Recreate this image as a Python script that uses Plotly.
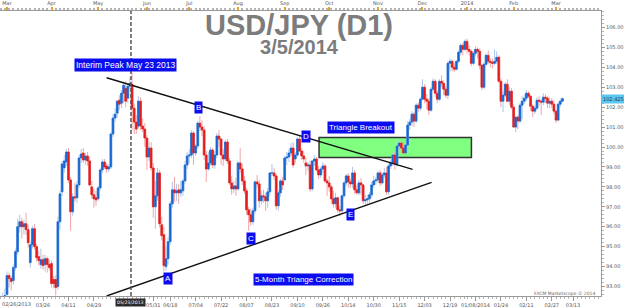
import pandas as pd
import plotly.graph_objects as go

# ---------------- data ----------------
HOLIDAYS = ["2013-12-25", "2014-01-01"]
DATES = [d for d in pd.bdate_range("2013-02-26", "2014-03-06") if d.strftime("%Y-%m-%d") not in HOLIDAYS]

OPEN = [
    91.90, 92.15, 92.45, 92.60, 93.55, 93.40, 93.30, 93.95, 94.75, 96.00,
    96.25, 96.00, 96.15, 95.85, 94.20, 95.10, 95.90, 95.00, 94.50, 94.10,
    94.35, 94.10, 94.40, 94.10, 94.15, 93.35, 93.35, 93.00, 96.25, 97.75,
    98.95, 99.25, 99.75, 98.35, 96.75, 97.50, 97.45, 98.10, 99.45, 99.70,
    99.35, 99.55, 99.30, 98.00, 97.60, 97.45, 97.40, 97.95, 98.85, 99.25,
    99.05, 98.90, 99.00, 100.65, 101.45, 101.70, 102.35, 102.20, 102.70, 102.95,
    102.45, 103.05, 103.15, 101.95, 101.25, 101.05, 102.30, 101.05, 100.90, 100.45,
    99.50, 99.95, 98.95, 97.00, 97.55, 98.70, 96.10, 95.60, 94.00, 94.40,
    95.25, 97.15, 97.85, 97.70, 97.85, 97.70, 97.80, 98.30, 99.10, 99.55,
    99.60, 100.70, 99.70, 100.05, 101.20, 101.00, 100.85, 99.60, 98.90, 99.20,
    99.85, 99.10, 99.60, 100.55, 100.40, 99.60, 99.40, 100.25, 99.30, 98.20,
    97.90, 98.05, 97.90, 99.20, 98.90, 98.30, 97.80, 96.85, 96.60, 96.25,
    96.80, 98.25, 98.15, 97.30, 97.55, 97.50, 97.30, 97.75, 98.70, 98.70,
    98.55, 97.05, 97.70, 98.30, 98.35, 99.45, 99.50, 99.70, 99.95, 99.40,
    99.60, 100.40, 99.80, 99.55, 99.20, 99.05, 99.10, 97.90, 99.30, 99.40,
    98.85, 98.60, 98.90, 99.05, 98.30, 98.20, 98.00, 97.40, 97.15, 97.45,
    96.85, 96.80, 97.55, 98.20, 98.55, 98.25, 98.15, 98.70, 97.85, 97.70,
    98.20, 98.10, 97.30, 97.35, 97.40, 97.60, 98.10, 98.30, 98.35, 98.70,
    98.20, 98.60, 98.70, 97.75, 99.05, 99.20, 99.60, 99.15, 100.05, 100.20,
    99.95, 99.70, 100.10, 101.10, 101.25, 101.65, 101.30, 102.10, 101.95, 102.40,
    103.00, 102.40, 102.30, 101.85, 102.90, 103.30, 102.70, 102.40, 103.30, 103.20,
    102.90, 102.60, 104.20, 104.30, 104.00, 103.90, 104.30, 104.75, 105.10, 104.90,
    105.30, 104.90, 104.80, 104.20, 104.70, 104.90, 104.80, 104.10, 103.00, 104.15,
    104.60, 104.30, 104.25, 104.20, 104.30, 104.50, 103.30, 102.30, 102.60, 103.15,
    102.30, 102.80, 102.00, 101.00, 101.50, 101.30, 102.10, 102.30, 102.45, 102.70,
    102.55, 102.05, 101.80, 101.95, 102.35, 102.30, 102.25, 102.50, 102.45, 102.20,
    102.30, 102.15, 101.80, 101.35, 102.15, 102.30,
]
HIGH = [
    92.55, 92.70, 92.90, 93.75, 93.70, 93.55, 94.10, 94.90, 96.40, 96.60,
    96.45, 96.35, 96.70, 96.10, 95.25, 96.05, 96.15, 95.15, 94.80, 94.90,
    94.60, 94.60, 94.50, 94.35, 94.30, 93.55, 93.55, 96.50, 97.80, 99.30,
    99.60, 99.90, 99.95, 98.50, 97.70, 98.20, 98.30, 99.60, 99.90, 99.95,
    99.70, 99.75, 99.50, 98.30, 97.90, 97.80, 98.05, 98.95, 99.40, 99.40,
    99.20, 99.15, 100.75, 101.65, 101.95, 102.35, 102.60, 102.85, 103.30, 103.30,
    103.20, 103.50, 103.75, 102.20, 101.60, 102.55, 102.50, 101.45, 101.20, 100.60,
    100.25, 100.25, 99.20, 98.30, 98.95, 98.85, 96.50, 96.00, 95.00, 95.50,
    97.30, 98.25, 98.50, 98.15, 98.15, 98.30, 98.40, 99.30, 99.75, 99.90,
    100.85, 100.80, 100.15, 101.30, 101.55, 101.35, 101.05, 99.80, 99.75, 100.00,
    99.95, 99.80, 100.70, 100.85, 100.45, 99.90, 100.35, 100.40, 99.45, 98.55,
    98.30, 98.45, 99.30, 99.95, 99.15, 98.55, 97.95, 97.00, 96.90, 96.95,
    98.35, 98.60, 98.35, 97.80, 97.85, 97.70, 97.95, 98.75, 99.15, 98.95,
    98.65, 97.85, 98.40, 98.50, 99.55, 99.75, 99.90, 100.20, 100.25, 99.75,
    100.50, 100.60, 99.95, 99.80, 99.45, 99.25, 99.30, 99.35, 99.60, 99.50,
    99.05, 99.00, 99.25, 99.15, 98.40, 98.55, 98.10, 97.80, 97.70, 97.50,
    97.05, 97.60, 98.30, 98.65, 98.70, 98.40, 99.00, 98.85, 98.10, 98.35,
    98.45, 98.15, 97.60, 97.60, 97.75, 98.25, 98.55, 98.50, 98.80, 98.85,
    98.75, 98.95, 99.00, 99.15, 99.35, 99.70, 99.75, 100.10, 100.40, 100.30,
    100.25, 100.40, 101.30, 101.40, 101.80, 101.75, 102.20, 102.25, 102.50, 103.40,
    103.15, 102.65, 102.45, 103.00, 103.45, 103.40, 102.85, 103.40, 103.60, 103.35,
    103.05, 104.30, 104.45, 104.40, 104.20, 104.35, 104.85, 105.20, 105.20, 105.40,
    105.45, 105.10, 104.90, 104.80, 105.05, 105.00, 104.95, 104.15, 104.25, 104.70,
    104.85, 104.45, 104.45, 104.90, 104.80, 104.60, 103.45, 102.80, 103.25, 103.40,
    103.00, 102.95, 102.15, 101.55, 101.60, 102.20, 102.55, 102.65, 102.85, 102.80,
    102.60, 102.15, 102.10, 102.50, 102.55, 102.40, 102.70, 102.65, 102.55, 102.50,
    102.45, 102.35, 101.85, 102.25, 102.45, 102.50,
]
LOW = [
    91.40, 91.85, 92.10, 92.55, 92.95, 92.80, 93.10, 93.80, 94.60, 95.70,
    95.40, 95.60, 95.60, 94.95, 93.95, 94.90, 94.85, 94.25, 94.05, 93.90,
    93.85, 93.75, 93.70, 93.80, 92.95, 92.90, 92.55, 92.85, 95.85, 97.55,
    98.70, 99.05, 98.20, 95.80, 96.55, 97.25, 97.20, 97.95, 99.20, 99.20,
    99.10, 99.05, 98.00, 97.40, 96.95, 97.05, 97.30, 97.80, 98.70, 98.90,
    98.70, 98.75, 98.90, 100.50, 101.25, 101.45, 101.85, 101.95, 102.20, 102.00,
    102.20, 102.90, 100.85, 100.65, 100.65, 100.95, 100.85, 100.75, 100.00, 98.85,
    99.30, 98.80, 96.45, 95.90, 97.30, 95.95, 95.30, 93.75, 93.80, 94.10,
    95.10, 96.95, 97.25, 97.30, 97.15, 97.50, 97.55, 98.15, 98.90, 99.20,
    99.45, 99.10, 99.55, 99.90, 100.80, 100.55, 99.35, 98.25, 98.80, 99.05,
    98.95, 98.90, 99.45, 100.00, 99.10, 99.05, 99.30, 99.15, 98.10, 97.60,
    97.70, 97.55, 97.80, 98.70, 98.10, 97.65, 96.60, 95.80, 96.05, 96.10,
    96.65, 97.95, 96.95, 97.10, 97.20, 96.80, 96.95, 97.55, 98.55, 98.35,
    96.85, 96.80, 97.50, 97.85, 98.30, 99.10, 99.25, 99.55, 98.95, 99.20,
    99.50, 99.75, 99.35, 99.20, 98.60, 98.80, 97.75, 97.80, 99.05, 98.75,
    98.40, 98.45, 98.70, 98.20, 97.55, 97.75, 97.15, 96.95, 96.95, 96.70,
    96.55, 96.70, 97.45, 98.05, 97.95, 97.95, 97.95, 97.65, 97.60, 97.60,
    97.60, 97.15, 97.10, 97.15, 97.20, 97.45, 97.95, 98.10, 98.20, 98.05,
    98.10, 98.45, 97.60, 97.60, 98.90, 99.05, 98.85, 99.00, 99.85, 99.70,
    99.60, 99.55, 100.00, 100.85, 101.05, 101.00, 101.20, 101.75, 101.80, 102.35,
    102.20, 101.90, 101.60, 101.75, 102.80, 102.50, 102.20, 102.30, 103.00, 102.60,
    102.45, 102.40, 103.80, 103.80, 103.75, 103.85, 104.20, 104.60, 104.60, 104.80,
    104.70, 104.60, 104.05, 104.10, 104.55, 104.45, 103.90, 102.85, 102.90, 104.05,
    104.15, 104.00, 103.95, 104.10, 104.15, 103.20, 102.00, 101.75, 102.50, 102.25,
    102.10, 101.90, 100.95, 100.75, 100.90, 101.20, 101.40, 102.15, 102.30, 102.45,
    101.80, 101.50, 101.65, 101.85, 102.05, 101.60, 102.10, 102.20, 101.95, 101.95,
    101.95, 101.65, 101.20, 101.30, 102.00, 102.25,
]
CLOSE = [
    92.15, 92.45, 92.55, 93.55, 93.40, 93.25, 93.95, 94.75, 96.00, 96.25,
    96.00, 96.15, 95.85, 95.20, 95.10, 95.90, 95.00, 94.45, 94.30, 94.35,
    94.05, 94.40, 94.10, 93.95, 93.15, 93.15, 92.95, 96.25, 97.65, 99.15,
    99.30, 99.75, 98.35, 96.75, 97.50, 97.45, 98.10, 99.45, 99.65, 99.35,
    99.55, 99.30, 98.10, 97.60, 97.40, 97.35, 97.95, 98.85, 99.25, 99.00,
    98.90, 99.00, 100.65, 101.45, 101.65, 102.30, 102.15, 102.70, 103.10, 102.30,
    103.05, 103.20, 101.95, 101.25, 100.90, 102.30, 101.05, 100.90, 100.45, 99.50,
    99.95, 98.95, 97.00, 97.55, 98.70, 96.15, 95.55, 94.05, 94.40, 95.25,
    97.15, 97.85, 97.70, 97.80, 97.70, 97.85, 98.30, 99.10, 99.55, 99.60,
    100.70, 99.70, 100.05, 101.20, 101.00, 100.85, 99.60, 98.90, 99.20, 99.85,
    99.10, 99.60, 100.55, 100.40, 99.60, 99.40, 100.25, 99.30, 98.20, 97.90,
    98.05, 97.90, 99.20, 98.90, 98.30, 97.80, 96.85, 96.60, 96.25, 96.80,
    98.25, 98.15, 97.30, 97.55, 97.50, 97.30, 97.75, 98.70, 98.70, 98.55,
    97.05, 97.70, 98.30, 98.10, 99.45, 99.50, 99.70, 99.95, 99.10, 99.60,
    100.40, 99.80, 99.55, 99.40, 99.05, 99.10, 97.90, 99.30, 99.40, 98.85,
    98.60, 98.90, 99.05, 98.30, 98.20, 98.00, 97.40, 97.15, 97.45, 96.85,
    96.80, 97.55, 98.20, 98.55, 98.25, 98.15, 98.70, 97.85, 97.70, 98.20,
    98.10, 97.30, 97.35, 97.40, 97.60, 98.10, 98.30, 98.35, 98.70, 98.20,
    98.60, 98.70, 97.75, 99.05, 99.20, 99.60, 99.15, 100.05, 100.20, 99.95,
    99.70, 100.10, 101.10, 101.25, 101.65, 101.30, 102.10, 101.95, 102.40, 103.00,
    102.40, 102.30, 101.85, 102.90, 103.30, 102.70, 102.40, 103.30, 103.20, 102.90,
    102.60, 104.20, 104.30, 104.00, 103.90, 104.30, 104.75, 105.10, 104.90, 105.30,
    104.90, 104.80, 104.20, 104.70, 104.90, 104.80, 104.10, 103.00, 104.15, 104.60,
    104.30, 104.25, 104.20, 104.30, 104.50, 103.30, 102.30, 102.60, 103.15, 102.30,
    102.80, 102.00, 101.00, 101.50, 101.30, 102.10, 102.30, 102.45, 102.70, 102.55,
    102.05, 101.80, 101.95, 102.35, 102.30, 102.25, 102.50, 102.45, 102.20, 102.30,
    102.15, 101.80, 101.35, 102.15, 102.30, 102.425,
]
assert len(DATES) == len(OPEN) == len(HIGH) == len(LOW) == len(CLOSE), (
    len(DATES), len(OPEN), len(HIGH), len(LOW), len(CLOSE))

BOTTOM_TICK_DATES = ["2013-03-26", "2013-04-11", "2013-04-29", "2013-06-06", "2013-06-18",
                     "2013-07-04", "2013-07-22", "2013-08-07", "2013-08-23", "2013-09-10",
                     "2013-09-26", "2013-10-14", "2013-10-30", "2013-11-15", "2013-12-03",
                     "2013-12-19", "2014-01-08", "2014-01-24", "2014-02-11", "2014-02-27",
                     "2014-03-13"]
BOTTOM_TICK_TEXT = ["03/26", "04/11", "04/29", "05/31", "06/18", "07/04", "07/22", "08/07",
                    "08/23", "09/10", "09/26", "10/14", "10/30", "11/15", "12/03", "12/19",
                    "01/08/2014", "01/24", "02/11", "02/27", "03/13"]
FIRST_DATE_LABEL = "02/26/2013"
MONTH_TICK_DATES = ["2013-03-01", "2013-04-01", "2013-05-01", "2013-06-03", "2013-07-01",
                    "2013-08-01", "2013-09-02", "2013-10-01", "2013-11-01", "2013-12-02",
                    "2014-01-02", "2014-02-03", "2014-03-03"]
MONTH_TICK_TEXT = ["Mar", "Apr", "May", "Jun", "Jul", "Aug", "Sep", "Oct", "Nov", "Dec",
                   "2014", "Feb", "Mar"]
PRICE_TICKS = [93, 94, 95, 96, 97, 98, 99, 100, 101, 102, 103, 104, 105, 106]
LAST_PRICE = 102.425

TITLE = "USD/JPY (D1)"
SUBTITLE = "3/5/2014"
PEAK_DATE_LABEL = "05/23/2013"
PEAK_LINE_X = "2013-05-22 12:00"
UPPER_LINE = [("2013-05-07", 103.475), ("2013-11-25 08:00", 98.875)]
LOWER_LINE = [("2013-05-07", 92.525), ("2013-12-06 07:00", 98.225)]
BREAKOUT_ZONE = {"x0": "2013-09-24 05:00", "x1": "2014-01-06 02:00", "y0": 99.475, "y1": 100.475}

X_RANGE = ["2013-02-25 17:00", "2014-04-01 05:00"]
Y_RANGE = [92.525, 106.825]

# ---------------- figure ----------------
BODY_HIGH = [max(o, c) for o, c in zip(OPEN, CLOSE)]
BODY_LOW = [min(o, c) for o, c in zip(OPEN, CLOSE)]

UP_WICK, DN_WICK = "#a9c8ee", "#f2a6a6"
UP_BODY, DN_BODY = "#1766d0", "#e31c1c"

fig = go.Figure()
fig.add_trace(go.Candlestick(
    x=DATES, open=OPEN, high=HIGH, low=LOW, close=CLOSE,
    increasing=dict(line=dict(color=UP_WICK, width=1), fillcolor=UP_WICK),
    decreasing=dict(line=dict(color=DN_WICK, width=1), fillcolor=DN_WICK),
    whiskerwidth=0, hoverinfo="skip", showlegend=False))
fig.add_trace(go.Candlestick(
    x=DATES, open=OPEN, high=BODY_HIGH, low=BODY_LOW, close=CLOSE,
    increasing=dict(line=dict(color=UP_BODY, width=0.6), fillcolor=UP_BODY),
    decreasing=dict(line=dict(color=DN_BODY, width=0.6), fillcolor=DN_BODY),
    whiskerwidth=0, showlegend=False))
fig.add_trace(go.Scatter(x=[], y=[], xaxis="x2", yaxis="y", showlegend=False))

breaks = [dict(bounds=["sat", "mon"]), dict(values=HOLIDAYS)]
axis_grey = "#9a9a9a"
tick_font = dict(size=5, color="#555555", family="DejaVu Sans")
minor_dates = list(pd.bdate_range("2013-02-26", "2014-04-01"))[::2]

fig.update_layout(
    width=624, height=308,
    margin=dict(l=0, r=21, t=10, b=12),
    paper_bgcolor="white", plot_bgcolor="white",
    showlegend=False, boxgap=0.15, boxgroupgap=0.05,
    xaxis=dict(type="date", range=X_RANGE, rangebreaks=breaks,
               rangeslider=dict(visible=False), showgrid=False, zeroline=False,
               showline=True, linecolor=axis_grey, linewidth=1,
               tickmode="array", tickvals=BOTTOM_TICK_DATES, ticktext=BOTTOM_TICK_TEXT,
               ticks="outside", ticklen=4, tickcolor=axis_grey, tickfont=tick_font,
               minor=dict(tickvals=minor_dates, ticks="outside", ticklen=2, tickcolor="#b5b5b5")),
    xaxis2=dict(type="date", range=X_RANGE, rangebreaks=breaks, overlaying="x", side="top",
                anchor="y", showgrid=False, zeroline=False, showline=True,
                linecolor=axis_grey, linewidth=1,
                tickmode="array", tickvals=MONTH_TICK_DATES, ticktext=MONTH_TICK_TEXT,
                ticks="outside", ticklen=3, tickwidth=2, tickcolor="#f0a020", tickfont=tick_font,
                minor=dict(tickvals=minor_dates, ticks="outside", ticklen=2, tickcolor="#b5b5b5")),
    yaxis=dict(side="right", range=Y_RANGE, showgrid=False, zeroline=False,
               showline=True, linecolor=axis_grey, linewidth=1,
               tickmode="array", tickvals=PRICE_TICKS, ticktext=[f"{p:.2f}" for p in PRICE_TICKS],
               ticks="outside", ticklen=3, tickcolor=axis_grey, tickfont=tick_font,
               minor=dict(dtick=0.2, ticks="outside", ticklen=2, tickcolor="#b5b5b5")),
)

# shapes
fig.add_shape(type="rect", xref="x", yref="y", layer="below",
              x0=BREAKOUT_ZONE["x0"], x1=BREAKOUT_ZONE["x1"],
              y0=BREAKOUT_ZONE["y0"], y1=BREAKOUT_ZONE["y1"],
              fillcolor="#80ff80", line=dict(color="#333333", width=1.5))
for (xa, ya), (xb, yb) in (UPPER_LINE, LOWER_LINE):
    fig.add_shape(type="line", xref="x", yref="y", x0=xa, y0=ya, x1=xb, y1=yb,
                  line=dict(color="#111111", width=1.4))
fig.add_shape(type="line", xref="x", yref="paper", x0=PEAK_LINE_X, x1=PEAK_LINE_X, y0=0, y1=1,
              line=dict(color="#555555", width=1.5, dash="4px,2px"))

# annotations (positions in plot pixels -> paper)
PW, PH, PB = 603.0, 286.0, 296.0


def px(x):
    return x / PW


def py(y):
    return (PB - y) / PH


BLUE = "#0c0cf0"


def tag(text, x, y, size=8):
    fig.add_annotation(text=text, xref="paper", yref="paper", x=px(x), y=py(y),
                       showarrow=False, xanchor="center", yanchor="middle",
                       font=dict(color="white", size=size, family="Liberation Sans"),
                       bgcolor=BLUE, borderpad=1)


tag("Interim Peak May 23 2013", 125.5, 64.5, 8.5)
tag("Triangle Breakout", 362.5, 127, 8)
tag("5-Month Triange Correction", 304.5, 279.5, 8)
for letter, lx, ly in (("A", 169, 278.5), ("B", 198.8, 107), ("C", 251.8, 238.3),
                       ("D", 307.5, 135.5), ("E", 352, 214)):
    tag(letter, lx, ly, 8)

# title + date as one two-line text block
fig.add_annotation(
    text=(f"<span style='font-size:29px'><b>{TITLE}</b></span><br>"
          f"<span style='font-size:20px'><b>{SUBTITLE}</b></span>"),
    xref="paper", yref="paper", x=px(300), y=py(6.5), showarrow=False,
    xanchor="center", yanchor="top", align="center", borderpad=0,
    font=dict(size=14.6, color="#7c7c7c", family="Liberation Sans"))

fig.add_annotation(text=FIRST_DATE_LABEL, xref="paper", yref="paper", x=0, y=py(304),
                   showarrow=False, xanchor="left", yanchor="middle", font=tick_font)
fig.add_annotation(text=PEAK_DATE_LABEL, xref="x", yref="paper", x=PEAK_LINE_X, y=py(302.5),
                   showarrow=False, xanchor="center", yanchor="middle",
                   font=dict(size=4.6, color="white", family="DejaVu Sans"),
                   bgcolor="#2a2a2a", borderpad=1)
fig.add_annotation(text=f"{LAST_PRICE:.3f}", xref="paper", yref="y", x=1.0, y=LAST_PRICE,
                   showarrow=False, xanchor="left", yanchor="middle",
                   font=dict(size=5, color="#1a3a5a", family="DejaVu Sans"),
                   bgcolor="#5cc6f2", borderpad=1)
fig.add_annotation(text="FXCM Marketscope © 2014", xref="paper", yref="paper",
                   x=px(599), y=py(293), showarrow=False, xanchor="right", yanchor="middle",
                   font=dict(size=4.5, color="#666666", family="DejaVu Sans"))

fig.write_html("out.html")
